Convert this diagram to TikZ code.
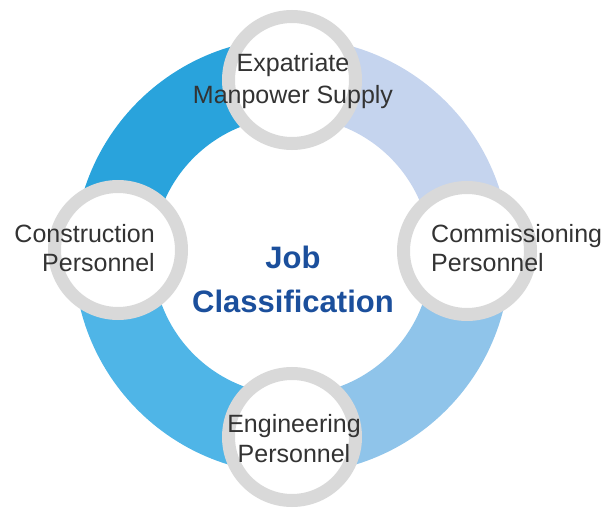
\documentclass[tikz,border=0pt]{standalone}
\usepackage{fontspec}
\setmainfont{Liberation Sans}
\usetikzlibrary{calc}
\definecolor{segTL}{HTML}{29A3DC}
\definecolor{segTR}{HTML}{C5D4EE}
\definecolor{segBR}{HTML}{8FC4EA}
\definecolor{segBL}{HTML}{4FB5E7}
\definecolor{ringgray}{HTML}{D9D9D9}
\definecolor{labeltext}{HTML}{333333}
\definecolor{titleblue}{HTML}{1B4F9C}
\tikzset{
  bubble/.style={circle, draw=ringgray, line width=13pt, fill=white, minimum size=127pt, inner sep=0pt},
  lbl/.style={text=labeltext, font=\fontsize{25}{30}\selectfont, inner sep=0pt},
  ttl/.style={text=titleblue, font=\bfseries\fontsize{31}{36}\selectfont, inner sep=0pt}
}
\begin{document}
\begin{tikzpicture}[x=1pt,y=1pt]
\useasboundingbox (0,0) rectangle (611,507);
\coordinate (C) at (292,251);
% ring segments
\fill[segTL] ($(C)+(180:218pt)$) arc[start angle=180,end angle=90,radius=218pt] -- ($(C)+(90:139pt)$) arc[start angle=90,end angle=180,radius=139pt] -- cycle;
\fill[segTR] ($(C)+(90:218pt)$) arc[start angle=90,end angle=0,radius=218pt] -- ($(C)+(0:139pt)$) arc[start angle=0,end angle=90,radius=139pt] -- cycle;
\fill[segBR] ($(C)+(0:218pt)$) arc[start angle=0,end angle=-90,radius=218pt] -- ($(C)+(-90:139pt)$) arc[start angle=-90,end angle=0,radius=139pt] -- cycle;
\fill[segBL] ($(C)+(-90:218pt)$) arc[start angle=-90,end angle=-180,radius=218pt] -- ($(C)+(-180:139pt)$) arc[start angle=-180,end angle=-90,radius=139pt] -- cycle;
% bubbles
\node[bubble] (top) at (292,427) {};
\node[bubble] (bottom) at (292,70) {};
\node[bubble] (left) at (118,257) {};
\node[bubble] (right) at (467,256) {};
% labels
\node[lbl, anchor=base] (topA) at (293,435) {Expatriate};
\node[lbl, anchor=base] (topB) at (293,403) {Manpower Supply};
\node[lbl, anchor=base east] (leftA) at (155,265) {Construction};
\node[lbl, anchor=base east] (leftB) at (155,235) {Personnel};
\node[lbl, anchor=base west] (rightA) at (431,265) {Commissioning};
\node[lbl, anchor=base west] (rightB) at (431,235) {Personnel};
\node[lbl, anchor=base] (bottomA) at (294,75) {Engineering};
\node[lbl, anchor=base] (bottomB) at (294,45) {Personnel};
% title
\node[ttl, anchor=base] (jobA) at (293,239) {Job};
\node[ttl, anchor=base] (jobB) at (293,195) {Classification};
\end{tikzpicture}
\end{document}
